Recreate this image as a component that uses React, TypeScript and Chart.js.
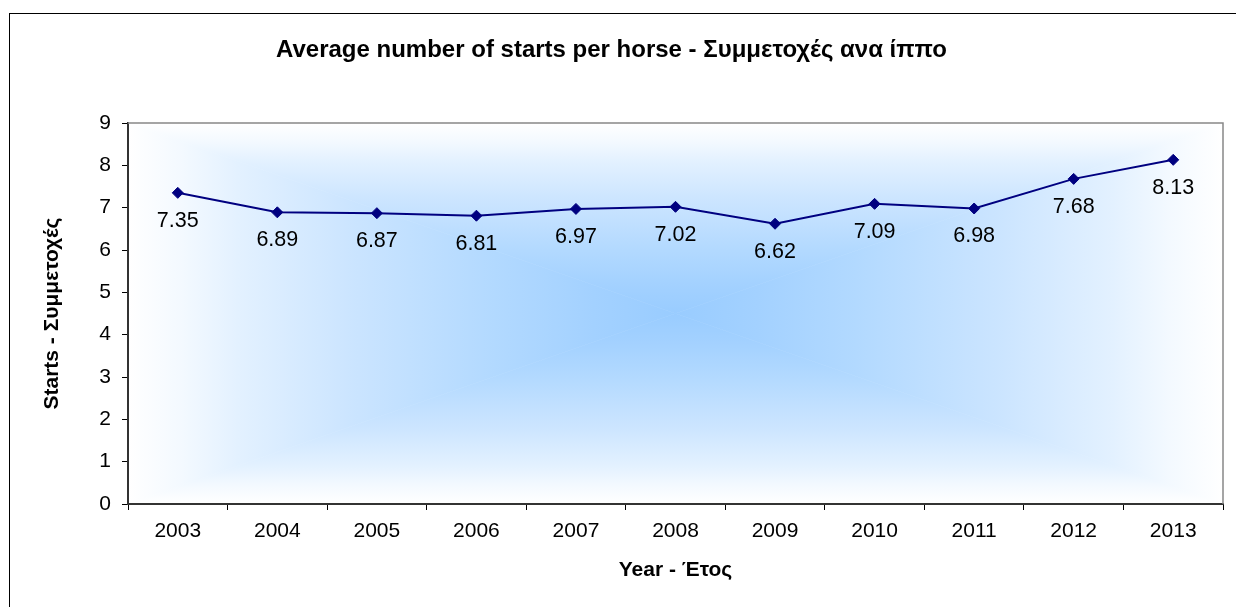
import React, { useEffect, useRef } from "react";
import { Chart, registerables } from "chart.js";

Chart.register(...registerables);

const years = ["2003", "2004", "2005", "2006", "2007", "2008", "2009", "2010", "2011", "2012", "2013"];
const starts = [7.35, 6.89, 6.87, 6.81, 6.97, 7.02, 6.62, 7.09, 6.98, 7.68, 8.13];
const yTickMin = 0;
const yTickMax = 9;
const yTickStep = 1;

const chartTitle = "Average number of starts per horse - Συμμετοχές ανα ίππο";
const xTitle = "Year - Έτος";
const yTitle = "Starts - Συμμετοχές";

const FONT = "'Liberation Sans', Arial, sans-serif";

const gradStops: [number, string][] = [
  [0, "#ffffff"],
  [0.1, "#f3f9ff"],
  [0.2, "#e3f1ff"],
  [0.4, "#cce5ff"],
  [0.67, "#b2d9ff"],
  [0.85, "#a3d1ff"],
  [1, "#99ccff"],
];

const bgPlugin = {
  id: "bgGradient",
  beforeDraw(chart: any) {
    const { ctx, chartArea: a } = chart;
    const cx = (a.left + a.right) / 2;
    const cy = (a.top + a.bottom) / 2;
    ctx.save();
    ctx.fillStyle = "#fff";
    ctx.fillRect(a.left, a.top, a.right - a.left, a.bottom - a.top);
    const tris = [
      { pts: [[a.left, a.top], [a.right, a.top], [cx, cy]], g: [cx, a.top, cx, cy] },
      { pts: [[a.left, a.bottom], [a.right, a.bottom], [cx, cy]], g: [cx, a.bottom, cx, cy] },
      { pts: [[a.left, a.top], [a.left, a.bottom], [cx, cy]], g: [a.left, cy, cx, cy] },
      { pts: [[a.right, a.top], [a.right, a.bottom], [cx, cy]], g: [a.right, cy, cx, cy] },
    ];
    for (const t of tris) {
      const grad = ctx.createLinearGradient(t.g[0], t.g[1], t.g[2], t.g[3]);
      gradStops.forEach(([p, c]) => grad.addColorStop(p, c));
      ctx.beginPath();
      ctx.moveTo(t.pts[0][0], t.pts[0][1]);
      ctx.lineTo(t.pts[1][0], t.pts[1][1]);
      ctx.lineTo(t.pts[2][0], t.pts[2][1]);
      ctx.closePath();
      ctx.fillStyle = grad;
      ctx.fill();
      ctx.strokeStyle = grad;
      ctx.lineWidth = 0.6;
      ctx.stroke();
    }
    ctx.restore();
  },
  afterDraw(chart: any) {
    const { ctx, chartArea: a, width, height } = chart;
    ctx.save();
    ctx.strokeStyle = "#888888";
    ctx.lineWidth = 1.5;
    ctx.beginPath();
    ctx.moveTo(a.left, a.top);
    ctx.lineTo(a.right, a.top);
    ctx.lineTo(a.right, a.bottom);
    ctx.stroke();
    ctx.fillStyle = "#000";
    ctx.fillRect(9, 13, width - 9, 1);
    ctx.fillRect(9, 13, 1, height - 13);
    ctx.restore();
  },
};

const labelPlugin = {
  id: "pointLabels",
  afterDatasetsDraw(chart: any) {
    const { ctx } = chart;
    const meta = chart.getDatasetMeta(0);
    const data = chart.data.datasets[0].data as number[];
    ctx.save();
    ctx.font = `21.5px ${FONT}`;
    ctx.fillStyle = "#000";
    ctx.textAlign = "center";
    ctx.textBaseline = "middle";
    meta.data.forEach((pt: any, i: number) => {
      ctx.fillText(data[i].toFixed(2), pt.x, pt.y + 28);
    });
    ctx.restore();
  },
};

export default function App() {
  const ref = useRef<HTMLCanvasElement | null>(null);
  useEffect(() => {
    document.body.style.margin = "0";
    const chart = new Chart(ref.current as HTMLCanvasElement, {
      type: "line",
      data: {
        labels: years,
        datasets: [
          {
            data: starts,
            borderColor: "#000080",
            backgroundColor: "#000080",
            borderWidth: 2,
            pointStyle: "rectRot",
            pointRadius: 5.5,
            pointBorderWidth: 1,
            pointBackgroundColor: "#000080",
            pointBorderColor: "#000080",
            tension: 0,
          },
        ],
      },
      options: {
        responsive: false,
        animation: false,
        layout: { padding: { left: 0, right: 13, top: 0, bottom: 0 } },
        plugins: {
          legend: { display: false },
          tooltip: { enabled: false },
          title: {
            display: true,
            text: chartTitle,
            color: "#000",
            font: { family: FONT, size: 24, weight: "bold" },
            padding: { top: 36, bottom: 58.2 },
          },
        },
        scales: {
          x: {
            type: "category",
            offset: true,
            grid: {
              offset: true,
              drawOnChartArea: false,
              drawTicks: true,
              tickLength: 6,
              color: "#000",
              lineWidth: 1,
            },
            border: { display: true, color: "#333", width: 2 },
            ticks: {
              color: "#000",
              font: { family: FONT, size: 21 },
              padding: 8.4,
              maxRotation: 0,
              autoSkip: false,
            },
            title: {
              display: true,
              text: xTitle,
              color: "#000",
              font: { family: FONT, size: 21, weight: "bold" },
              padding: { top: 0, bottom: 24.4 },
            },
            afterFit: (s: any) => {
              s.height = 103;
            },
          },
          y: {
            min: yTickMin,
            max: yTickMax,
            grid: {
              drawOnChartArea: false,
              drawTicks: true,
              tickLength: 6,
              color: "#000",
              lineWidth: 1,
            },
            border: { display: true, color: "#333", width: 2 },
            ticks: {
              stepSize: yTickStep,
              color: "#000",
              font: { family: FONT, size: 21 },
              padding: 11,
            },
            title: {
              display: true,
              text: yTitle,
              color: "#000",
              font: { family: FONT, size: 21, weight: "bold" },
              padding: { top: 39.4, bottom: 0 },
            },
            afterFit: (s: any) => {
              s.width = 128;
            },
          },
        },
      },
      plugins: [bgPlugin, labelPlugin],
    });
    return () => chart.destroy();
  }, []);
  return (
    <div style={{ position: "absolute", left: 0, top: 0, width: 1236, height: 607 }}>
      <canvas ref={ref} width={1236} height={607} />
    </div>
  );
}
